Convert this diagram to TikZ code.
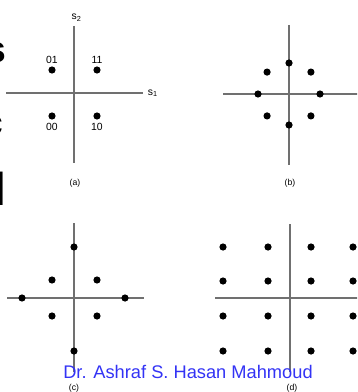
\documentclass[tikz,border=0pt]{standalone}
\usepackage{fontspec}
\setmainfont{Liberation Sans}
\usetikzlibrary{positioning}
\definecolor{axgray}{HTML}{707070}
\definecolor{wmblue}{HTML}{3333F5}
\tikzset{
  % constellation points and axes
  sym/.style={circle, fill=black, inner sep=0pt, minimum size=5.4pt},
  axis/.style={draw=axgray, line width=1.1pt},
  % small scanned labels
  bits/.style={font=\fontsize{7.8}{8}\selectfont, inner sep=0.5pt},
  subcap/.style={font=\fontsize{6.5}{7}\selectfont, inner sep=0pt},
  % slide text cut off at the left edge
  cut/.style={font=\bfseries\fontsize{#1}{#1}\selectfont, inner sep=0pt, anchor=base east},
}

\begin{document}
\begin{tikzpicture}[x=0.75pt, y=-0.75pt]
\useasboundingbox (0,0) rectangle (357,392);
\clip (0,0) rectangle (357,392);

% ---- slide text behind the figure (cut off) ----
\node[cut=28] (txtS) at (6.2,62.5) {s};
\node[cut=28] (txtC) at (3.5,136) {c};
\node[cut=34.6] (txtL) at (6.1,205) {l};

% =====================================================================
% (a)  QPSK with bit labels
% =====================================================================
\coordinate (aW) at (6,93);   \coordinate (aE) at (143,93);
\coordinate (aN) at (74,26);  \coordinate (aS) at (74,163);
\draw[axis] (aW) -- (aE);
\draw[axis] (aN) -- (aS);
\node[bits, above=3pt of aN, xshift=2pt] (as2) {s\textsubscript{2}};
\node[bits, right=3pt of aE] (as1) {s\textsubscript{1}};

\node[sym] (a01) at (52,70) {};
\node[sym] (a11) at (97,70) {};
\node[sym] (a00) at (52,116) {};
\node[sym] (a10) at (97,116) {};
\node[bits, above=1.5pt of a01] {01};
\node[bits, above=1.5pt of a11] {11};
\node[bits, below=2pt of a00] {00};
\node[bits, below=2pt of a10] {10};
\node[subcap] (capA) at (75,183) {(a)};

% =====================================================================
% (b)  8-PSK
% =====================================================================
\coordinate (bo) at (289,94);
\coordinate (bW) at (223,94);  \coordinate (bE) at (360,94);
\coordinate (bN) at (289,25);  \coordinate (bS) at (289,165);
\draw[axis] (bW) -- (bE);
\draw[axis] (bN) -- (bS);
\foreach \ang [count=\i] in {0,45,...,315}
  \node[sym] (b\i) at ([shift={(\ang:31)}]bo) {};
\node[subcap] (capB) at (290,183) {(b)};

% =====================================================================
% (c)  8-QAM: inner square + points on the axes
% =====================================================================
\coordinate (cW) at (7,298);   \coordinate (cE) at (144,298);
\coordinate (cN) at (74,223);  \coordinate (cS) at (74,372);
\draw[axis] (cW) -- (cE);
\draw[axis] (cN) -- (cS);
\node[sym] (cT) at (74,247) {};
\node[sym] (cB) at (74,351) {};
\node[sym] (cL) at (22,298) {};
\node[sym] (cR) at (125,298) {};
\foreach \x in {52,97}
  \foreach \y in {280,316}
    \node[sym] (c-\x-\y) at (\x,\y) {};
\node[subcap] (capC) at (74,388) {(c)};

% =====================================================================
% (d)  16-QAM
% =====================================================================
\coordinate (dW) at (215,298); \coordinate (dE) at (360,298);
\coordinate (dN) at (290,224); \coordinate (dS) at (290,372);
\draw[axis] (dW) -- (dE);
\draw[axis] (dN) -- (dS);
\foreach \x in {223,268,311,353}
  \foreach \y in {247,281,316,351}
    \node[sym] (d-\x-\y) at (\x,\y) {};
\node[subcap] (capD) at (292,388) {(d)};

% ---- watermark ----
\node[font=\fontsize{13.7}{16}\selectfont, text=wmblue, inner sep=0pt, anchor=base]
  (wm) at (188,378) {Dr. Ashraf S. Hasan Mahmoud};

\end{tikzpicture}
\end{document}
